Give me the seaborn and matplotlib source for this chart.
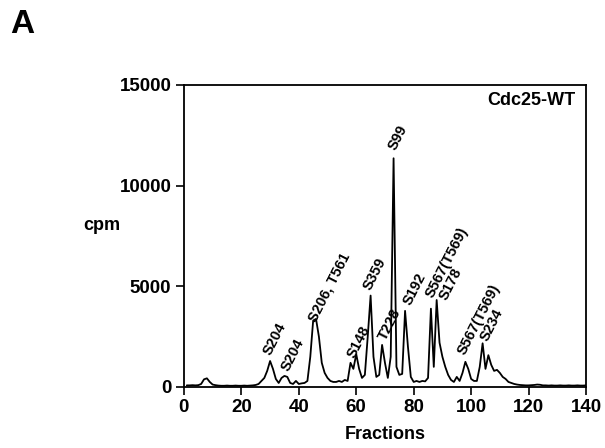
import matplotlib
matplotlib.use("Agg")
import matplotlib.pyplot as plt
import seaborn as sns
import pandas as pd

fractions = list(range(1, 141))
cpm = [
    80, 80, 90, 80, 90, 150, 380, 430, 250, 120,          # 1-10
    90, 70, 60, 60, 70, 60, 60, 70, 60, 60,               # 11-20
    70, 60, 70, 80, 100, 150, 300, 450, 800, 1290,        # 21-30
    900, 400, 200, 450, 550, 500, 200, 150, 300, 150,     # 31-40
    180, 200, 300, 1500, 3300, 3380, 2500, 1200, 700, 450,  # 41-50
    300, 250, 250, 300, 250, 350, 300, 1200, 900, 1630,   # 51-60
    900, 450, 600, 2500, 4540, 1500, 500, 600, 2090, 1200,  # 61-70
    450, 1500, 11360, 1000, 600, 650, 3780, 2000, 500, 250,  # 71-80
    300, 250, 300, 280, 450, 3890, 1000, 4320, 2200, 1500,  # 81-90
    1000, 600, 350, 250, 500, 300, 700, 1250, 900, 400,   # 91-100
    300, 300, 1000, 2170, 900, 1580, 1100, 800, 850, 700,  # 101-110
    500, 400, 250, 200, 150, 120, 100, 90, 80, 80,        # 111-120
    90, 100, 120, 110, 80, 80, 70, 80, 70, 70,            # 121-130
    80, 70, 70, 80, 70, 70, 80, 70, 70, 80,               # 131-140
]

labels = ["S204", "S204", "S206, T561", "S148", "S359", "T228", "S99",
          "S192", "S567(T569)", "S178", "S567(T569)", "S234"]
label_x = [31, 37.5, 46.8, 60.5, 65.8, 71.4, 74.5, 79.8, 87.8, 92.3, 98.8, 106.8]
label_y = [1450, 700, 3100, 1340, 4700, 2200, 11670, 3970, 4320, 4220, 1490, 2180]

xticks = [0, 20, 40, 60, 80, 100, 120, 140]
yticks = [0, 5000, 10000, 15000]

sns.set_style("ticks")
plt.rcParams['font.family'] = ['Liberation Sans', 'DejaVu Sans']
plt.rcParams['text.color'] = 'black'
plt.rcParams['axes.labelcolor'] = 'black'
plt.rcParams['xtick.color'] = 'black'
plt.rcParams['ytick.color'] = 'black'

fig = plt.figure(figsize=(6.05, 4.48), dpi=100)
ax = fig.add_axes([0.304, 0.1362, 0.6646, 0.6741])

df = pd.DataFrame({"Fractions": fractions, "cpm": cpm})
sns.lineplot(data=df, x="Fractions", y="cpm", color="black", linewidth=1.3, ax=ax)

ax.set_xlim(0, 140)
ax.set_ylim(0, 15000)
ax.set_xticks(xticks)
ax.set_yticks(yticks)
ax.set_xticklabels([str(t) for t in xticks], fontsize=13.5, fontweight="bold")
ax.set_yticklabels([str(t) for t in yticks], fontsize=13.5, fontweight="bold")
ax.tick_params(direction="out", length=6, width=1.2, colors="black", pad=3)
for s in ax.spines.values():
    s.set_linewidth(1.3)
    s.set_color("black")

ax.set_xlabel("Fractions", fontsize=13, fontweight="bold", labelpad=7)
ax.set_ylabel("")
fig.text(83 / 605, 1 - 234 / 448, "cpm", fontsize=13, fontweight="bold", ha="left", va="bottom")

for t, x, y in zip(labels, label_x, label_y):
    ax.text(x, y, t, rotation=63, rotation_mode="anchor", ha="left", va="bottom",
            fontsize=10.5, fontweight="bold")

ax.text(0.973, 0.977, "Cdc25-WT", transform=ax.transAxes, ha="right", va="top",
        fontsize=13, fontweight="bold")

fig.text(10 / 605, 1 - 40 / 448, "A", fontsize=24, fontweight="bold", ha="left", va="bottom")

fig.savefig("out.png", dpi=100)
